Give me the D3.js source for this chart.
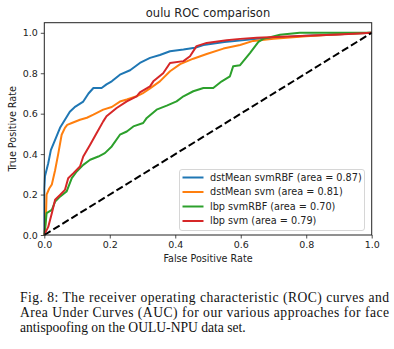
<!DOCTYPE html>
<html>
<head>
<meta charset="utf-8">
<script src="https://cdn.jsdelivr.net/npm/d3@7"></script>
<style>
    body { margin: 0; background: #fff; }
    svg { display: block; }
    .caption { font-family: "Liberation Serif", "Times New Roman", serif; }
</style>
</head>
<body>
<div id="chart"></div>
<script>
const seriesNames = [
    "dstMean svmRBF (area = 0.87)",
    "dstMean svm (area = 0.81)",
    "lbp svmRBF (area = 0.70)",
    "lbp svm (area = 0.79)"
];
const seriesColors = ["#1f77b4", "#ff7f0e", "#2ca02c", "#d62728"];

const dstRbfFpr = [0, 0, 0.002, 0.012, 0.02, 0.033, 0.048, 0.063, 0.078, 0.095, 0.119, 0.135, 0.15, 0.175, 0.19, 0.206, 0.231, 0.262, 0.292, 0.323, 0.353, 0.384, 0.425, 0.46, 0.486, 0.55, 0.65, 0.8, 0.9, 1];
const dstRbfTpr = [0, 0.23, 0.29, 0.355, 0.42, 0.47, 0.53, 0.57, 0.61, 0.635, 0.66, 0.7, 0.727, 0.727, 0.745, 0.76, 0.793, 0.815, 0.851, 0.876, 0.89, 0.909, 0.917, 0.926, 0.94, 0.955, 0.97, 0.985, 0.993, 1];

const dstSvmFpr = [0, 0.003, 0.005, 0.007, 0.015, 0.023, 0.033, 0.043, 0.053, 0.063, 0.07, 0.084, 0.109, 0.13, 0.15, 0.18, 0.206, 0.231, 0.252, 0.282, 0.3, 0.323, 0.353, 0.384, 0.415, 0.455, 0.496, 0.547, 0.598, 0.638, 0.7, 0.8, 0.9, 1];
const dstSvmTpr = [0, 0.05, 0.09, 0.2, 0.23, 0.25, 0.32, 0.405, 0.496, 0.53, 0.545, 0.554, 0.57, 0.58, 0.595, 0.62, 0.633, 0.66, 0.67, 0.686, 0.7, 0.725, 0.76, 0.81, 0.845, 0.872, 0.895, 0.922, 0.94, 0.96, 0.97, 0.983, 0.993, 1];

const lbpRbfFpr = [0, 0.003, 0.005, 0.007, 0.023, 0.033, 0.048, 0.068, 0.084, 0.099, 0.119, 0.14, 0.165, 0.185, 0.206, 0.231, 0.252, 0.272, 0.302, 0.313, 0.343, 0.374, 0.404, 0.425, 0.455, 0.486, 0.516, 0.542, 0.567, 0.577, 0.598, 0.628, 0.654, 0.669, 0.72, 0.78, 1];
const lbpRbfTpr = [0, 0.04, 0.074, 0.108, 0.124, 0.165, 0.19, 0.215, 0.281, 0.314, 0.347, 0.372, 0.388, 0.405, 0.438, 0.496, 0.512, 0.537, 0.554, 0.579, 0.62, 0.64, 0.661, 0.686, 0.711, 0.727, 0.727, 0.76, 0.785, 0.835, 0.84, 0.9, 0.955, 0.97, 0.99, 1, 1];

const lbpSvmFpr = [0, 0.002, 0.012, 0.023, 0.033, 0.048, 0.063, 0.073, 0.089, 0.109, 0.119, 0.14, 0.16, 0.18, 0.19, 0.221, 0.252, 0.282, 0.292, 0.323, 0.333, 0.363, 0.384, 0.425, 0.445, 0.465, 0.496, 0.557, 0.598, 0.649, 0.8, 0.9, 1];
const lbpSvmTpr = [0, 0.008, 0.04, 0.108, 0.174, 0.198, 0.223, 0.281, 0.306, 0.339, 0.388, 0.446, 0.504, 0.562, 0.587, 0.628, 0.661, 0.686, 0.705, 0.735, 0.76, 0.8, 0.851, 0.86, 0.884, 0.934, 0.95, 0.963, 0.97, 0.975, 0.985, 0.992, 1];

const tickValues = [0, 0.2, 0.4, 0.6, 0.8, 1.0];
const captionLines = [
    "Fig. 8: The receiver operating characteristic (ROC) curves and",
    "Area Under Curves (AUC) for our various approaches for face",
    "antispoofing on the OULU-NPU data set."
];

const width = 394, height = 349;
const plot = { left: 44.3, right: 371.7, top: 22.7, bottom: 235 };
const font = "DejaVu Sans, sans-serif";

const svg = d3.select("#chart").append("svg")
    .attr("width", width)
    .attr("height", height);

svg.append("rect").attr("width", width).attr("height", height).attr("fill", "#fff");

const x = d3.scaleLinear().domain([0, 1]).range([plot.left, plot.right]);
const y = d3.scaleLinear().domain([0, 1.05]).range([plot.bottom, plot.top]);

const curves = [
    { fpr: dstRbfFpr, tpr: dstRbfTpr },
    { fpr: dstSvmFpr, tpr: dstSvmTpr },
    { fpr: lbpRbfFpr, tpr: lbpRbfTpr },
    { fpr: lbpSvmFpr, tpr: lbpSvmTpr }
].map((c, i) => ({
    name: seriesNames[i],
    color: seriesColors[i],
    points: c.fpr.map((f, j) => [f, c.tpr[j]])
}));

const line = d3.line()
    .x(d => x(d[0]))
    .y(d => y(d[1]));

svg.append("defs").append("clipPath")
    .attr("id", "plot-clip")
    .append("rect")
    .attr("x", plot.left - 1)
    .attr("y", plot.top)
    .attr("width", plot.right - plot.left + 2)
    .attr("height", plot.bottom - plot.top + 1);

const lines = svg.append("g").attr("clip-path", "url(#plot-clip)");

lines.selectAll("path.roc")
    .data(curves)
    .enter()
    .append("path")
    .attr("class", "roc")
    .attr("d", d => line(d.points))
    .attr("fill", "none")
    .attr("stroke", d => d.color)
    .attr("stroke-width", 2)
    .attr("stroke-linejoin", "round");

// chance diagonal
lines.append("path")
    .attr("d", line([[0, 0], [1, 1]]))
    .attr("fill", "none")
    .attr("stroke", "#000")
    .attr("stroke-width", 2)
    .attr("stroke-dasharray", "7.4,3.2");

// axes
const xAxis = d3.axisBottom(x)
    .tickValues(tickValues)
    .tickSize(3.5)
    .tickPadding(3)
    .tickFormat(d3.format(".1f"));

const yAxis = d3.axisLeft(y)
    .tickValues(tickValues)
    .tickSize(3.5)
    .tickPadding(3)
    .tickFormat(d3.format(".1f"));

const gx = svg.append("g")
    .attr("transform", `translate(0,${plot.bottom})`)
    .call(xAxis);
const gy = svg.append("g")
    .attr("transform", `translate(${plot.left},0)`)
    .call(yAxis);

[gx, gy].forEach(g => {
    g.select(".domain").remove();
    g.selectAll("line").attr("stroke", "#222").attr("stroke-width", 0.8);
    g.selectAll("text")
        .attr("font-family", font)
        .attr("font-size", "9.5px")
        .attr("fill", "#222");
});

svg.append("rect")
    .attr("x", plot.left)
    .attr("y", plot.top)
    .attr("width", plot.right - plot.left)
    .attr("height", plot.bottom - plot.top)
    .attr("fill", "none")
    .attr("stroke", "#222")
    .attr("stroke-width", 1);

// labels
svg.append("text")
    .attr("x", (plot.left + plot.right) / 2)
    .attr("y", 16.5)
    .attr("text-anchor", "middle")
    .attr("font-family", font)
    .attr("font-size", "11.5px")
    .attr("fill", "#222")
    .text("oulu ROC comparison");

svg.append("text")
    .attr("x", (plot.left + plot.right) / 2)
    .attr("y", 262)
    .attr("text-anchor", "middle")
    .attr("font-family", font)
    .attr("font-size", "9.6px")
    .attr("fill", "#222")
    .text("False Positive Rate");

svg.append("text")
    .attr("transform", `translate(16,${(plot.top + plot.bottom) / 2}) rotate(-90)`)
    .attr("text-anchor", "middle")
    .attr("font-family", font)
    .attr("font-size", "9.6px")
    .attr("fill", "#222")
    .text("True Positive Rate");

// legend
const legend = svg.append("g").attr("transform", "translate(179.5,169.5)");

legend.append("rect")
    .attr("width", 185)
    .attr("height", 61)
    .attr("rx", 2.5)
    .attr("fill", "#fff")
    .attr("fill-opacity", 0.8)
    .attr("stroke", "#ccc")
    .attr("stroke-width", 0.8);

const rows = legend.selectAll("g.item")
    .data(curves)
    .enter()
    .append("g")
    .attr("class", "item")
    .attr("transform", (d, i) => `translate(0,${8 + i * 14.5})`);

rows.append("line")
    .attr("x1", 3)
    .attr("x2", 24)
    .attr("stroke", d => d.color)
    .attr("stroke-width", 2);

rows.append("text")
    .attr("x", 30.5)
    .attr("dy", "0.35em")
    .attr("font-family", font)
    .attr("font-size", "9.7px")
    .attr("fill", "#222")
    .text(d => d.name);

// caption under the figure, justified like the paper
svg.append("g")
    .selectAll("text")
    .data(captionLines)
    .enter()
    .append("text")
    .attr("class", "caption")
    .attr("x", 20)
    .attr("y", (d, i) => 302 + i * 15)
    .attr("font-size", "13.6px")
    .attr("fill", "#111")
    .attr("textLength", (d, i) => i < 2 ? 369 : null)
    .attr("lengthAdjust", "spacing")
    .text(d => d);
</script>
</body>
</html>
